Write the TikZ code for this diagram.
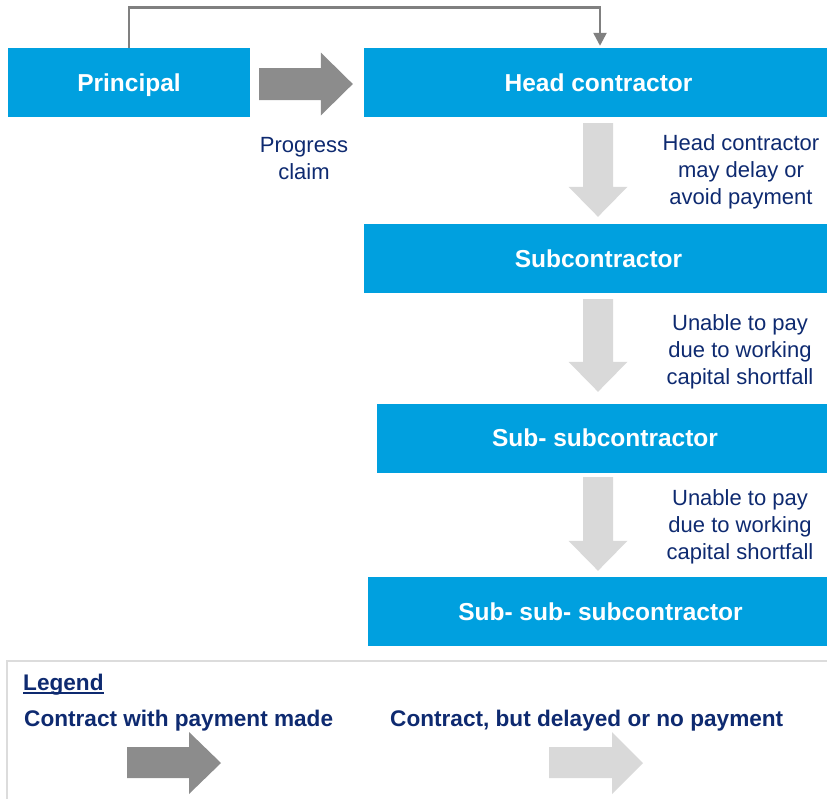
\documentclass[tikz,border=0pt]{standalone}
\usepackage{fontspec}
\setmainfont{Liberation Sans}
\usetikzlibrary{calc,arrows.meta}
\definecolor{boxblue}{HTML}{00A0DF}
\definecolor{navy}{HTML}{0E2A70}
\definecolor{darkgrey}{HTML}{8C8C8C}
\definecolor{lightgrey}{HTML}{D9D9D9}
\definecolor{linegrey}{HTML}{808080}
\definecolor{framegrey}{HTML}{DCDCDC}

% block arrow pointing down from node #1 to node #2, with gaps #3 (top) and #4 (bottom)
\newcommand\delayedarrow[4]{%
  \fill[unpaid] let \p1=($(#1.south -| axis)+(0pt,-#3pt)$), \p2=($(#2.north -| axis)+(0pt,#4pt)$) in
    (\x1-15pt,\y1) -- (\x1+15pt,\y1) -- (\x1+15pt,\y2+30pt) -- (\x1+29.5pt,\y2+30pt)
    -- (\x1,\y2) -- (\x1-29.5pt,\y2+30pt) -- (\x1-15pt,\y2+30pt) -- cycle;}

\begin{document}
\begin{tikzpicture}[x=1pt,y=-1pt,
  party/.style={fill=boxblue, text=white, font=\bfseries\fontsize{24.5}{28}\selectfont,
    inner sep=0pt, text height=17.5pt, text depth=0pt, minimum height=69pt},
  note/.style={text=navy, font=\fontsize{22}{27}\selectfont, align=center, inner sep=0pt},
  legendtext/.style={text=navy, font=\bfseries\fontsize{22.6}{26}\selectfont, inner sep=0pt, anchor=base west},
  paid/.style={fill=darkgrey},
  unpaid/.style={fill=lightgrey},
  feedback/.style={draw=linegrey, line width=2.5pt, -{Triangle[width=13pt,length=13pt]}},
]
\clip (0,0) rectangle (827,798);

% parties of the contract chain
\node[party, minimum width=242pt] (principal) at (129,82.5) {Principal};
\node[party, minimum width=469pt] (head) at (598.5,82.5) {Head contractor};
\node[party, minimum width=469pt] (sub) at (598.5,258.5) {Subcontractor};
\node[party, minimum width=456pt] (subsub) at (605,438) {Sub- subcontractor};
\node[party, minimum width=465pt] (subsubsub) at (600.5,611.5) {Sub- sub- subcontractor};

% payment from principal to head contractor
\coordinate (topline) at (0,7.5);
\draw[feedback] (principal.north) -- (principal.north |- topline) -| ($(head.north)+(1.5pt,2pt)$);
\fill[paid] let \p1=($(principal.east)+(9pt,-1.5pt)$), \p2=($(head.west)+(-11pt,-1.5pt)$) in
  (\x1,\y1+16pt) -- (\x2-32pt,\y1+16pt) -- (\x2-32pt,\y1+31.5pt) -- (\x2,\y1)
  -- (\x2-32pt,\y1-31.5pt) -- (\x2-32pt,\y1-16pt) -- (\x1,\y1-16pt) -- cycle;

% delayed payments down the chain
\coordinate (axis) at (598,0);
\delayedarrow{head}{sub}{6}{7}
\delayedarrow{sub}{subsub}{6}{11.5}
\delayedarrow{subsub}{subsubsub}{4.5}{6}

% notes
\node[note] (claim) at (304,159) {Progress\\claim};
\node[note] (delay) at (741,172) {Head contractor\\may delay or\\avoid payment};
\node[note] (short1) at (740,352) {Unable to pay\\due to working\\capital shortfall};
\node[note] (short2) at (740,527) {Unable to pay\\due to working\\capital shortfall};

% legend
\draw[framegrey, line width=2pt] (7,800) -- (7,661) -- (830,661);
\node[legendtext] (legendtitle) at (23,690) {Legend};
\draw[navy, line width=2pt] ($(legendtitle.base west)+(0pt,-3pt)$) -- ($(legendtitle.base east)+(0pt,-3pt)$);
\node[legendtext] (paidtext) at (24,726) {Contract with payment made};
\node[legendtext] (unpaidtext) at (390,726) {Contract, but delayed or no payment};
\fill[paid] (127,747) -- (189,747) -- (189,732) -- (221,763) -- (189,794) -- (189,778) -- (127,778) -- cycle;
\fill[unpaid] (549,747) -- (612,747) -- (612,732) -- (643,763) -- (612,794) -- (612,778) -- (549,778) -- cycle;
\end{tikzpicture}
\end{document}
